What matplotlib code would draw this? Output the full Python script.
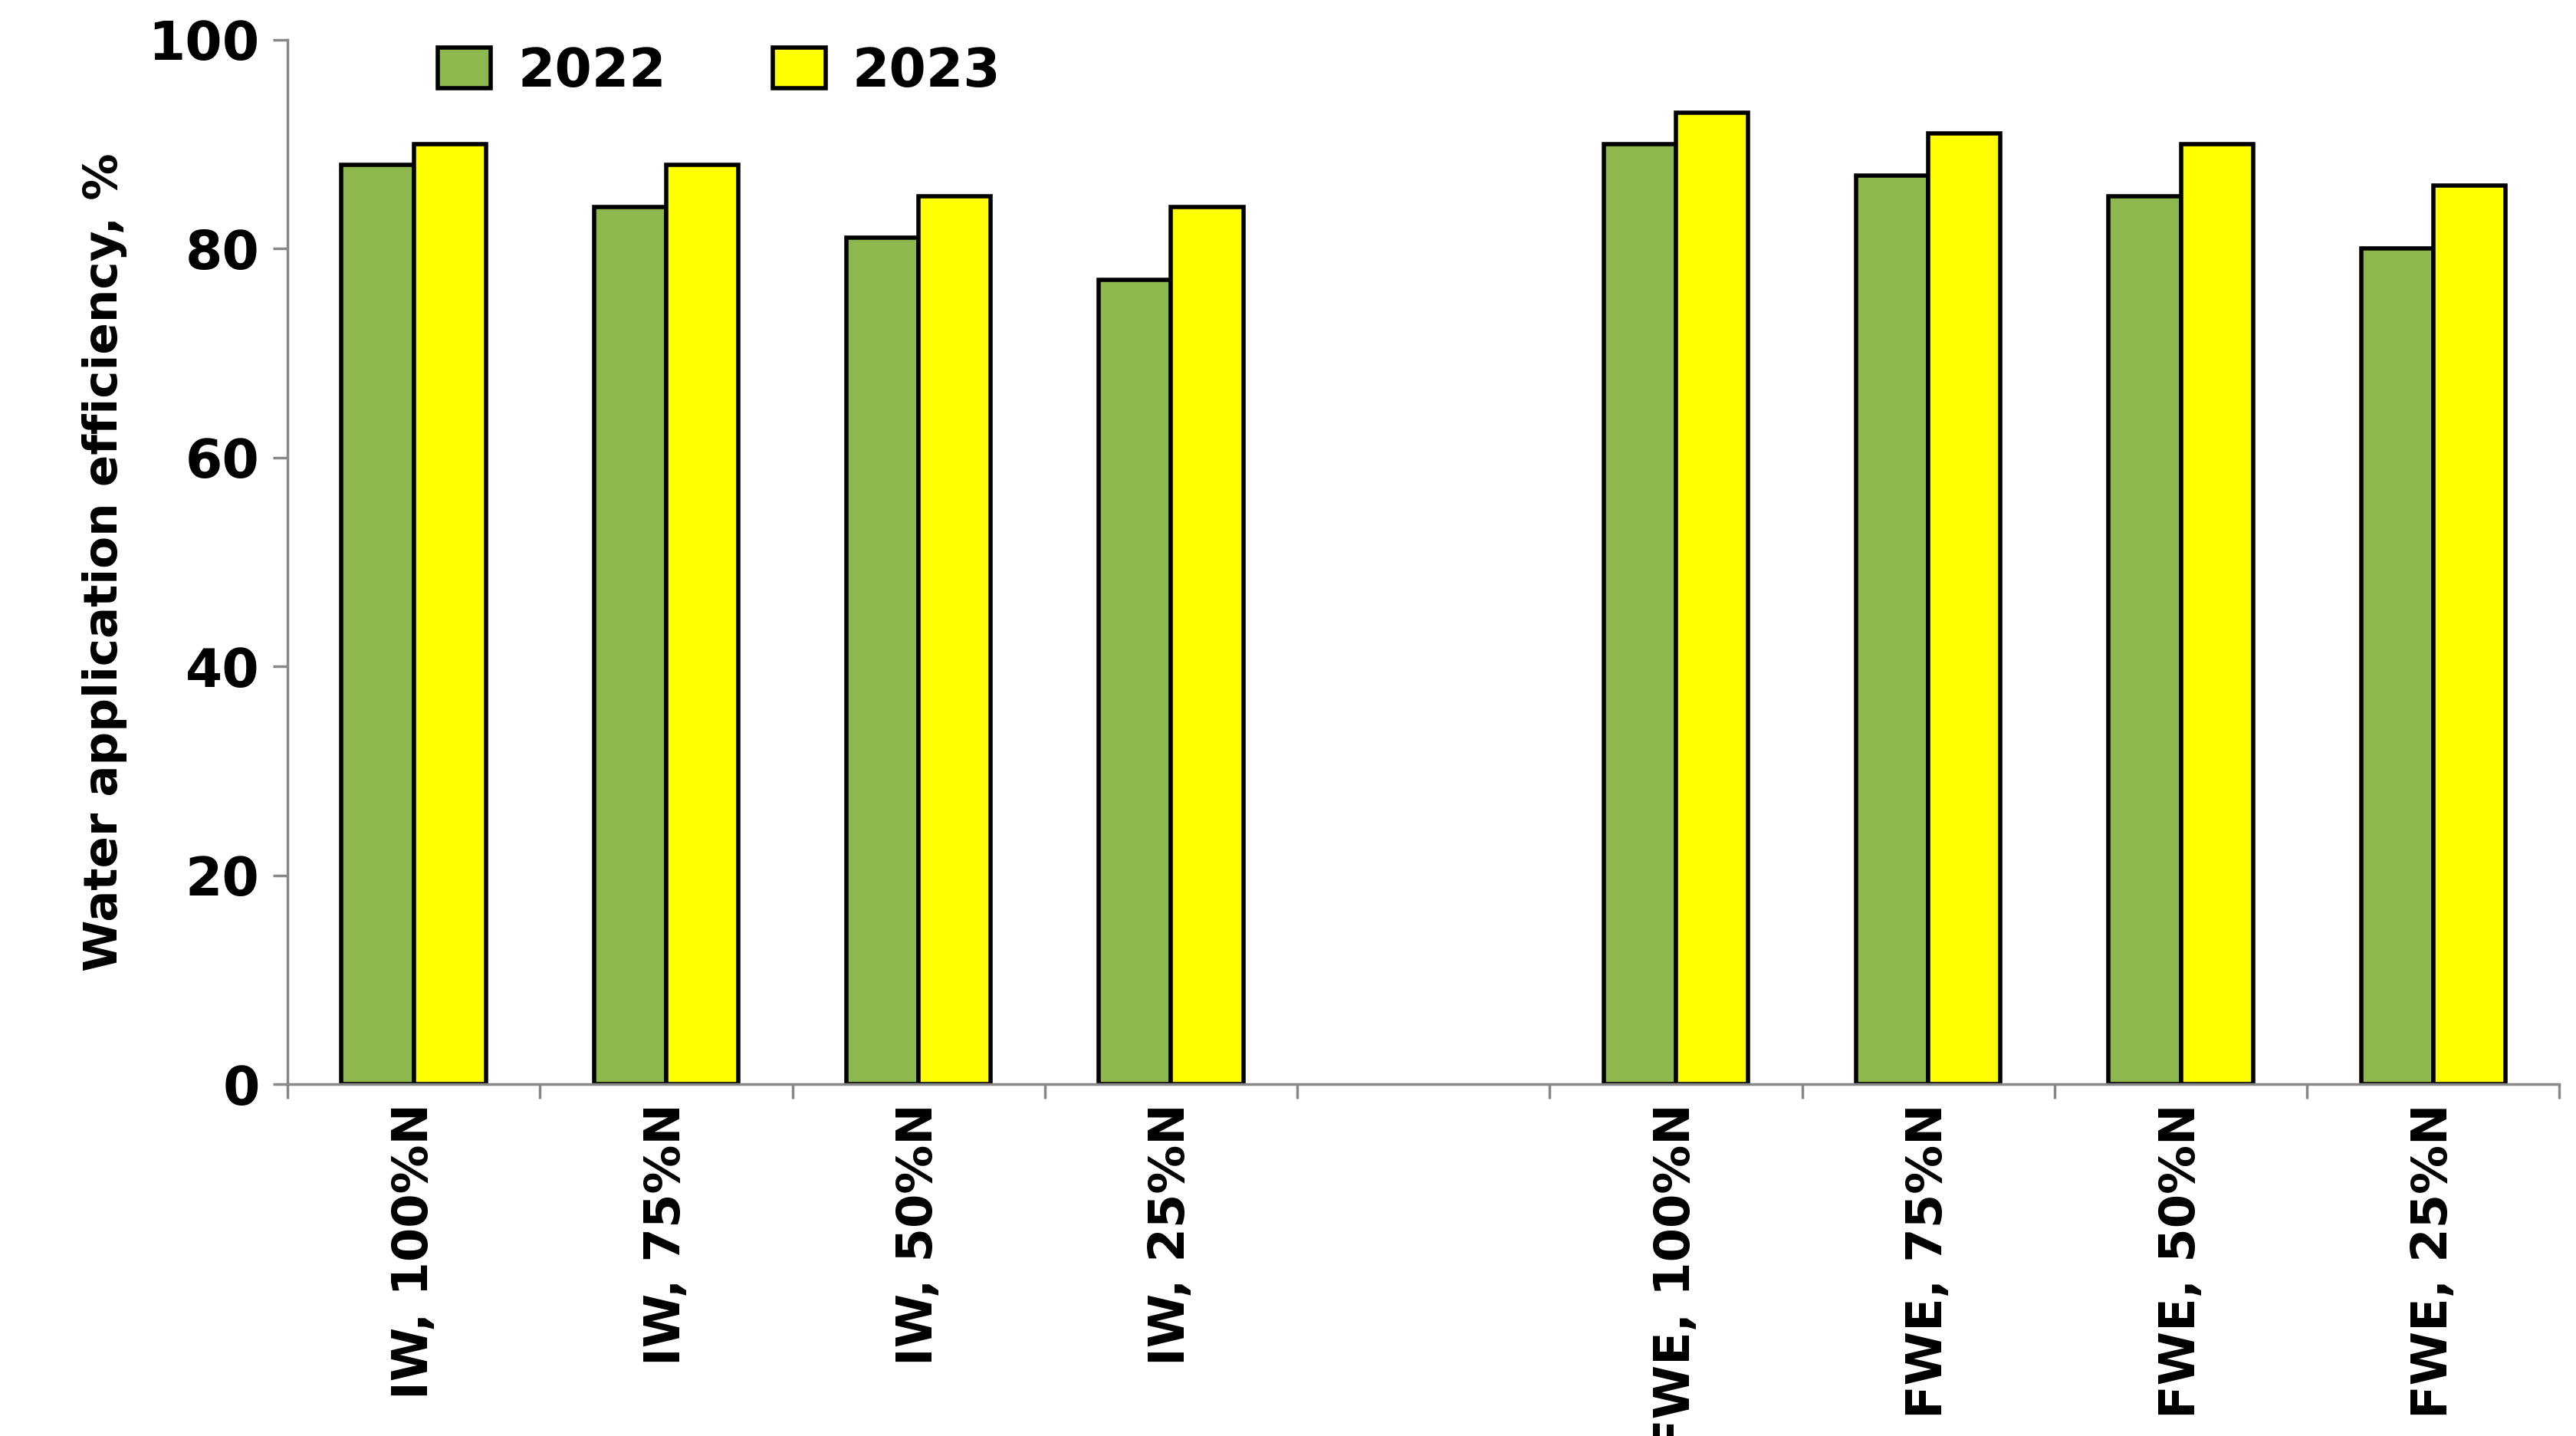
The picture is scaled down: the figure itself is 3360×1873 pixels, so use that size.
import matplotlib
matplotlib.use("Agg")
import matplotlib.pyplot as plt
import numpy as np

categories = ["IW, 100%N", "IW, 75%N", "IW, 50%N", "IW, 25%N", "",
              "FWE, 100%N", "FWE, 75%N", "FWE, 50%N", "FWE, 25%N"]
y2022 = [88, 84, 81, 77, np.nan, 90, 87, 85, 80]
y2023 = [90, 88, 85, 84, np.nan, 93, 91, 90, 86]

plt.rcParams['font.family'] = ['DejaVu Sans']
plt.rcParams['font.weight'] = 'bold'
fig = plt.figure(figsize=(33.6, 18.73), dpi=100)
ax = fig.add_axes([0.1116, 0.245, 0.882, 0.7275])
x = np.arange(len(categories))
w = 0.286
ax.bar(x - w/2, y2022, w, color="#8DB84E", edgecolor="black", linewidth=4, label="2022")
ax.bar(x + w/2, y2023, w, color="#FFFF00", edgecolor="black", linewidth=4, label="2023")
ax.set_xlim(-0.5, len(categories) - 0.5)
ax.set_ylim(0, 100)
ax.set_yticks(range(0, 101, 20))
ax.set_xticks(x)
ax.set_xticklabels(categories, rotation=90, fontsize=46, fontweight='bold')
ax.set_xticks(np.arange(-0.5, len(categories)), minor=True)
ax.tick_params(axis='x', which='major', length=0, pad=18)
ax.tick_params(axis='x', which='minor', length=14, width=2.5, color='#888888')
ax.tick_params(axis='y', labelsize=50, length=14, width=2.5, color='#888888', pad=12)
for l in ax.get_yticklabels():
    l.set_fontweight('bold')
for s in ['top', 'right']:
    ax.spines[s].set_visible(False)
for s in ['left', 'bottom']:
    ax.spines[s].set_linewidth(2.5)
    ax.spines[s].set_color('#888888')
ax.set_ylabel("Water application efficiency, %", fontsize=44, fontweight='bold', labelpad=20)
ax.legend(loc='upper left', bbox_to_anchor=(0.045, 1.04), ncol=2, frameon=False,
          prop={'size': 50, 'weight': 'bold'}, handlelength=1.0, handleheight=0.8,
          columnspacing=2.0, handletextpad=0.5)
fig.savefig("out.png", dpi=100)
